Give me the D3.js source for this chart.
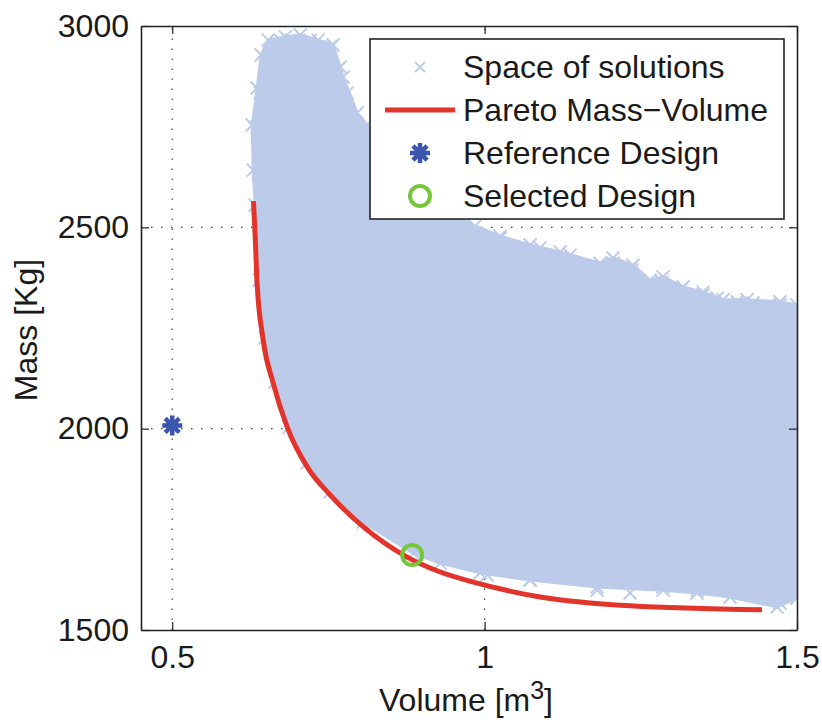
<!DOCTYPE html>
<html>
<head>
<meta charset="utf-8">
<script src="https://cdn.jsdelivr.net/npm/d3@7"></script>
<style>
  html, body { margin: 0; padding: 0; background: #fff; }
  svg { display: block; }
  text { font-family: "Liberation Sans", Arial, Helvetica, sans-serif; fill: #1a1a1a; }
</style>
</head>
<body>
<script>
// ---------------- data ----------------
const xTicks = [0.5, 1, 1.5];
const yTicks = [1500, 2000, 2500, 3000];
const xGrid = [0.5, 1];
const yGrid = [2000, 2500];

// Pareto front (Mass vs Volume)
const paretoVolume = [0.630, 0.633, 0.6355, 0.6456, 0.6616, 0.684, 0.716, 0.753, 0.806, 0.876, 0.929, 0.982, 1.089, 1.233, 1.444];
const paretoMass   = [2565, 2470, 2369, 2220, 2113, 2004, 1905, 1835, 1756, 1681, 1644, 1619, 1582, 1560, 1550];

// Outline of the cloud of solutions (clockwise)
const cloudVolume = [0.6328, 0.6296, 0.628, 0.636, 0.6424, 0.6536, 0.6808, 0.7048, 0.7336, 0.7576, 0.7736, 0.796, 0.812,
  0.8488, 0.8968, 0.9448, 0.9848, 1.0248, 1.0728, 1.1208, 1.1848, 1.2056, 1.2376, 1.2648, 1.2856, 1.3176, 1.3496, 1.3816,
  1.42, 1.4728, 1.5, 1.5, 1.468, 1.3928, 1.34, 1.2856, 1.18, 1.0728, 0.9928, 0.9288, 0.8856, 0.8056, 0.7528, 0.716,
  0.6872, 0.6648, 0.6488, 0.6392];
const cloudMass = [2555, 2642, 2754, 2846, 2928, 2965, 2973, 2978, 2965, 2953, 2873, 2784, 2754,
  2667, 2593, 2538, 2503, 2478, 2456, 2439, 2411, 2424, 2406, 2369, 2377, 2352, 2339, 2320,
  2320, 2315, 2307, 1579, 1557, 1582, 1592, 1599, 1607, 1624, 1642, 1666, 1691, 1768, 1843, 1915,
  2004, 2116, 2225, 2369];

// Individual solutions visible on the ragged edge of the cloud
const edgeVolume = [1.2056, 1.236, 1.284, 1.3128, 1.3496, 1.372, 1.404, 1.4296, 1.4728,
  0.6568, 0.6728, 0.7048, 0.7208, 0.7368, 0.7528, 0.652, 0.6408, 0.636, 0.6376, 0.78, 0.7688,
  1.34, 1.3656, 1.42, 1.4728, 1.18, 1.2328, 1.2856, 1.0728, 1.004, 1.0248, 1.0888, 1.1368];
const edgeMass = [2411, 2394, 2364, 2344, 2332, 2324, 2315, 2312, 2307,
  2933, 2965, 2958, 2965, 2948, 2948, 2858, 2834, 2749, 2635, 2834, 2898,
  1599, 1607, 1592, 1567, 1599, 1592, 1607, 1624, 1637, 2473, 2449, 2431];

const referenceDesign = { volume: 0.5, mass: 2008 };
const selectedDesign = { volume: 0.884, mass: 1686 };

const legendLabels = ["Space of solutions", "Pareto Mass\u2212Volume", "Reference Design", "Selected Design"];

// ---------------- layout ----------------
const W = 822, H = 724;
const L = 141, R = 797, T = 26, B = 630;
const cloudColor = "#bccbea";
const redColor = "#e2342b";
const starColor = "#3c56ae";
const greenColor = "#76c63a";
const axisColor = "#222";
const fontSize = 32;

const svg = d3.select("body").append("svg").attr("width", W).attr("height", H);

const x = d3.scaleLinear().domain([0.45, 1.5]).range([L, R]);
const y = d3.scaleLinear().domain([1500, 3000]).range([B, T]);

svg.append("defs").append("clipPath").attr("id", "plotclip")
  .append("rect").attr("x", L).attr("y", T).attr("width", R - L).attr("height", B - T);

// grid
const grid = svg.append("g").attr("stroke", "#444").attr("stroke-width", 1.2).attr("stroke-dasharray", "1.5,8.5");
grid.selectAll(".vg").data(xGrid).join("line")
  .attr("x1", d => x(d)).attr("x2", d => x(d)).attr("y1", B).attr("y2", T);
grid.selectAll(".hg").data(yGrid).join("line")
  .attr("y1", d => y(d)).attr("y2", d => y(d)).attr("x1", L).attr("x2", R);

const plot = svg.append("g").attr("clip-path", "url(#plotclip)");

// cloud
const cloudPts = cloudVolume.map((v, i) => [v, cloudMass[i]]);
plot.append("path")
  .attr("d", d3.line().x(d => x(d[0])).y(d => y(d[1])).curve(d3.curveLinearClosed)(cloudPts))
  .attr("fill", cloudColor).attr("stroke", cloudColor).attr("stroke-width", 3);

// x markers at the outline samples and edge solutions
const edgePts = edgeVolume.map((v, i) => [v, edgeMass[i]]);
const xm = 6.5;
plot.append("g").selectAll("path").data(cloudPts.concat(edgePts)).join("path")
  .attr("d", d => {
    const cx = x(d[0]), cy = y(d[1]);
    return `M${cx - xm},${cy - xm}L${cx + xm},${cy + xm}M${cx - xm},${cy + xm}L${cx + xm},${cy - xm}`;
  })
  .attr("stroke", cloudColor).attr("stroke-width", 2).attr("fill", "none");

// pareto line
const paretoPts = paretoVolume.map((v, i) => [v, paretoMass[i]]);
plot.append("path")
  .attr("d", d3.line().x(d => x(d[0])).y(d => y(d[1])).curve(d3.curveMonotoneX)(paretoPts))
  .attr("fill", "none").attr("stroke", redColor).attr("stroke-width", 5);

// star marker
function starPath(cx, cy, r) {
  let p = "";
  for (let k = 0; k < 4; k++) {
    const a = k * Math.PI / 4;
    p += `M${cx - r * Math.cos(a)},${cy - r * Math.sin(a)}L${cx + r * Math.cos(a)},${cy + r * Math.sin(a)}`;
  }
  return p;
}
svg.append("path")
  .attr("d", starPath(x(referenceDesign.volume), y(referenceDesign.mass), 10))
  .attr("stroke", starColor).attr("stroke-width", 4.5).attr("fill", "none");
svg.append("circle")
  .attr("cx", x(referenceDesign.volume)).attr("cy", y(referenceDesign.mass)).attr("r", 6).attr("fill", starColor);

// selected design
svg.append("circle")
  .attr("cx", x(selectedDesign.volume)).attr("cy", y(selectedDesign.mass)).attr("r", 10)
  .attr("fill", "none").attr("stroke", greenColor).attr("stroke-width", 4);

// axes
function styleAxis(g) {
  g.selectAll(".domain").attr("stroke", axisColor).attr("stroke-width", 1.6);
  g.selectAll(".tick line").attr("stroke", axisColor).attr("stroke-width", 1.2);
  g.selectAll("text").attr("font-size", fontSize).attr("fill", "#1a1a1a")
    .attr("font-family", '"Liberation Sans", Arial, Helvetica, sans-serif');
  g.attr("font-size", null).attr("font-family", null);
}
svg.append("g").attr("transform", `translate(0,${B})`)
  .call(d3.axisBottom(x).tickValues(xTicks).tickFormat(d3.format("")).tickSizeInner(-8).tickSizeOuter(0).tickPadding(15))
  .call(styleAxis);
svg.append("g").attr("transform", `translate(0,${T})`)
  .call(d3.axisTop(x).tickValues(xTicks).tickFormat("").tickSizeInner(-8).tickSizeOuter(0))
  .call(styleAxis);
svg.append("g").attr("transform", `translate(${L},0)`)
  .call(d3.axisLeft(y).tickValues(yTicks).tickFormat(d3.format("d")).tickSizeInner(-8).tickSizeOuter(0).tickPadding(12))
  .call(styleAxis);
svg.append("g").attr("transform", `translate(${R},0)`)
  .call(d3.axisRight(y).tickValues(yTicks).tickFormat("").tickSizeInner(-8).tickSizeOuter(0))
  .call(styleAxis);

// axis labels
const xl = svg.append("text").attr("x", 466).attr("y", 711).attr("text-anchor", "middle")
  .attr("font-size", fontSize);
xl.append("tspan").text("Volume [m");
xl.append("tspan").attr("font-size", 25).attr("dy", -12).text("3");
xl.append("tspan").attr("dy", 12).text("]");

svg.append("text").attr("transform", `translate(37,${(T + B) / 2 + 2}) rotate(-90)`)
  .attr("text-anchor", "middle").attr("font-size", fontSize).text("Mass [Kg]");

// legend
const lg = svg.append("g");
lg.append("rect").attr("x", 370).attr("y", 39).attr("width", 414).attr("height", 180)
  .attr("fill", "#fff").attr("stroke", axisColor).attr("stroke-width", 1.6);
const rowY = [67, 110, 153, 196];
lg.selectAll("text").data(legendLabels).join("text")
  .attr("x", 463).attr("y", (d, i) => rowY[i]).attr("dy", "0.35em")
  .attr("font-size", fontSize).text(d => d);
const lx = 420, lm = 5;
lg.append("path")
  .attr("d", `M${lx - lm},${rowY[0] - lm}L${lx + lm},${rowY[0] + lm}M${lx - lm},${rowY[0] + lm}L${lx + lm},${rowY[0] - lm}`)
  .attr("stroke", cloudColor).attr("stroke-width", 1.8);
lg.append("line").attr("x1", 385).attr("x2", 455).attr("y1", rowY[1]).attr("y2", rowY[1])
  .attr("stroke", redColor).attr("stroke-width", 5);
lg.append("path").attr("d", starPath(lx, rowY[2], 10)).attr("stroke", starColor).attr("stroke-width", 4.5);
lg.append("circle").attr("cx", lx).attr("cy", rowY[2]).attr("r", 6).attr("fill", starColor);
lg.append("circle").attr("cx", lx).attr("cy", rowY[3]).attr("r", 10)
  .attr("fill", "none").attr("stroke", greenColor).attr("stroke-width", 4);
</script>
</body>
</html>
